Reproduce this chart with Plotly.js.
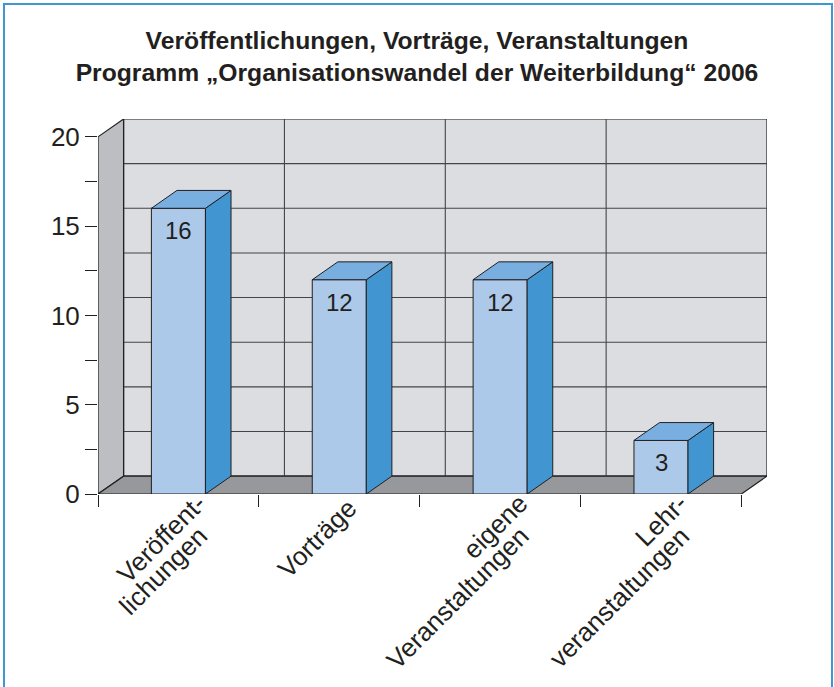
<!DOCTYPE html>
<html>
<head>
<meta charset="utf-8">
<script src="https://cdn.plot.ly/plotly-3.0.1.min.js"></script>
<style>html,body{margin:0;padding:0;background:#fff;}#chart{width:834px;height:687px;}</style>
</head>
<body>
<div id="chart"></div>
<script>
// ---- data ----
const categories = ["Veröffent-<br>lichungen", "Vorträge", "eigene<br>Veranstaltungen", "Lehr-<br>veranstaltungen"];
const values = [16, 12, 12, 3];
const yTickVals = [0, 5, 10, 15, 20];
const yTickText = ["0", "5", "10", "15", "20"];

// ---- 3D look parameters ----
const DX = 0.159;   // depth offset in category units
const DY = 1.0;     // depth offset in value units
const BW = 0.336;   // bar width (category units)
const YMAX = 20;
const xs = categories.map((_, i) => i);
const xLo = -0.5, xHi = categories.length - 0.5;

const cFront = '#adc9e9', cSide = '#4196d2', cTop = '#79afe0';
const edge = '#231f20';
const FAM = 'Liberation Sans, Arial, sans-serif';
const LABEL_SIZE = 26;

const traces = [];
traces.push({
  type: 'bar', x: xs, y: values, width: BW,
  marker: {color: cFront, line: {color: edge, width: 1}},
  hoverinfo: 'none', showlegend: false
});
values.forEach((v, i) => {
  const r = xs[i] + BW / 2, l = xs[i] - BW / 2;
  traces.push({
    type: 'scatter', mode: 'lines', fill: 'toself', fillcolor: cSide,
    x: [r, r, r + DX, r + DX, r], y: [0, v, v + DY, DY, 0],
    line: {color: edge, width: 1}, hoverinfo: 'none', showlegend: false
  });
  traces.push({
    type: 'scatter', mode: 'lines', fill: 'toself', fillcolor: cTop,
    x: [l, r, r + DX, l + DX, l], y: [v, v, v + DY, v + DY, v],
    line: {color: edge, width: 1}, hoverinfo: 'none', showlegend: false
  });
});

// value labels inside the front faces
const annotations = values.map((v, i) => ({
  x: xs[i], y: v, xref: 'x', yref: 'y', text: String(v), showarrow: false,
  xanchor: 'center', yanchor: 'top', yshift: -7,
  font: {family: FAM, size: 24, color: edge}
}));

// category labels: each line rotated -45°, line ends stacked (Excel style)
const ctx = document.createElement('canvas').getContext('2d');
ctx.font = LABEL_SIZE + 'px "Liberation Sans"';
const K = Math.SQRT1_2;
categories.forEach((c, i) => {
  const lines = c.split('<br>');
  lines.forEach((line, j) => {
    let ex, ey;
    if (lines.length === 1) { ex = 12; ey = 10; }
    else if (j === 0) { ex = 22; ey = 5; }
    else { ex = 24; ey = 38; }
    const w = ctx.measureText(line).width;
    const cx = ex - K * w / 2, cy = ey + K * w / 2;
    annotations.push({
      x: xs[i], y: 0, xref: 'x', yref: 'y', text: line, showarrow: false,
      textangle: -45, xanchor: 'center', yanchor: 'middle',
      xshift: cx, yshift: -cy,
      font: {family: FAM, size: LABEL_SIZE, color: edge}
    });
  });
});

// ---- decorative walls / floor / grid ----
const shapes = [];
shapes.push({type: 'rect', xref: 'x', yref: 'y', x0: xLo + DX, x1: xHi + DX, y0: DY, y1: YMAX + DY,
  fillcolor: '#dcdde0', line: {color: edge, width: 1.2}, layer: 'below'});
for (let g = 2.5; g < YMAX; g += 2.5) {
  shapes.push({type: 'line', xref: 'x', yref: 'y', x0: xLo + DX, x1: xHi + DX, y0: g + DY, y1: g + DY,
    line: {color: '#454545', width: 1.1}, layer: 'below'});
}
for (let b = xLo + 1; b < xHi; b += 1) {
  shapes.push({type: 'line', xref: 'x', yref: 'y', x0: b + DX, x1: b + DX, y0: DY, y1: YMAX + DY,
    line: {color: '#454545', width: 1.1}, layer: 'below'});
}
shapes.push({type: 'path', xref: 'x', yref: 'y',
  path: `M ${xLo},0 L ${xLo},${YMAX} L ${xLo + DX},${YMAX + DY} L ${xLo + DX},${DY} Z`,
  fillcolor: '#bdbec1', line: {color: edge, width: 1.2}, layer: 'below'});
shapes.push({type: 'path', xref: 'x', yref: 'y',
  path: `M ${xLo},0 L ${xHi},0 L ${xHi + DX},${DY} L ${xLo + DX},${DY} Z`,
  fillcolor: '#97989b', line: {color: edge, width: 1.2}, layer: 'below'});
shapes.push({type: 'rect', xref: 'paper', yref: 'paper',
  x0: (4 - 98) / 669, x1: (832 - 98) / 669, y0: (494 - 700) / 375, y1: (494 - 4) / 375,
  fillcolor: 'rgba(0,0,0,0)', line: {color: '#3d97d3', width: 2}, layer: 'below'});

const layout = {
  width: 834, height: 687,
  margin: {l: 98, r: 67, t: 119, b: 193},
  paper_bgcolor: '#ffffff', plot_bgcolor: 'rgba(0,0,0,0)',
  font: {family: FAM, color: edge},
  title: {
    text: '<b>Veröffentlichungen, Vorträge, Veranstaltungen<br>Programm „Organisationswandel der Weiterbildung“ 2006</b>',
    font: {family: FAM, size: 24.7, color: edge},
    xref: 'container', x: 0.5, xanchor: 'center',
    yref: 'container', y: 1 - 49 / 687, yanchor: 'top'
  },
  xaxis: {
    range: [xLo, xHi + DX], fixedrange: true,
    tickmode: 'array', tickvals: xs, ticktext: categories, showticklabels: false,
    ticks: '', ticklen: 0, showgrid: false, zeroline: false, showline: false,
    minor: {tickmode: 'array', tickvals: [-0.5, 0.5, 1.5, 2.5, 3.5], ticks: 'outside', ticklen: 12,
      tickcolor: edge, tickwidth: 1, showgrid: false}
  },
  yaxis: {
    range: [0, YMAX + DY], fixedrange: true,
    tickmode: 'array', tickvals: yTickVals, ticktext: yTickText,
    ticks: 'outside', ticklen: 12, tickcolor: edge, tickwidth: 1,
    showgrid: false, zeroline: false, showline: false,
    tickfont: {family: FAM, size: 26, color: edge},
    minor: {dtick: 2.5, tick0: 0, ticks: 'outside', ticklen: 12, tickcolor: edge, tickwidth: 1, showgrid: false}
  },
  shapes: shapes,
  annotations: annotations,
  showlegend: false,
  bargap: 0
};

Plotly.newPlot('chart', traces, layout, {displayModeBar: false, staticPlot: true});
</script>
</body>
</html>
